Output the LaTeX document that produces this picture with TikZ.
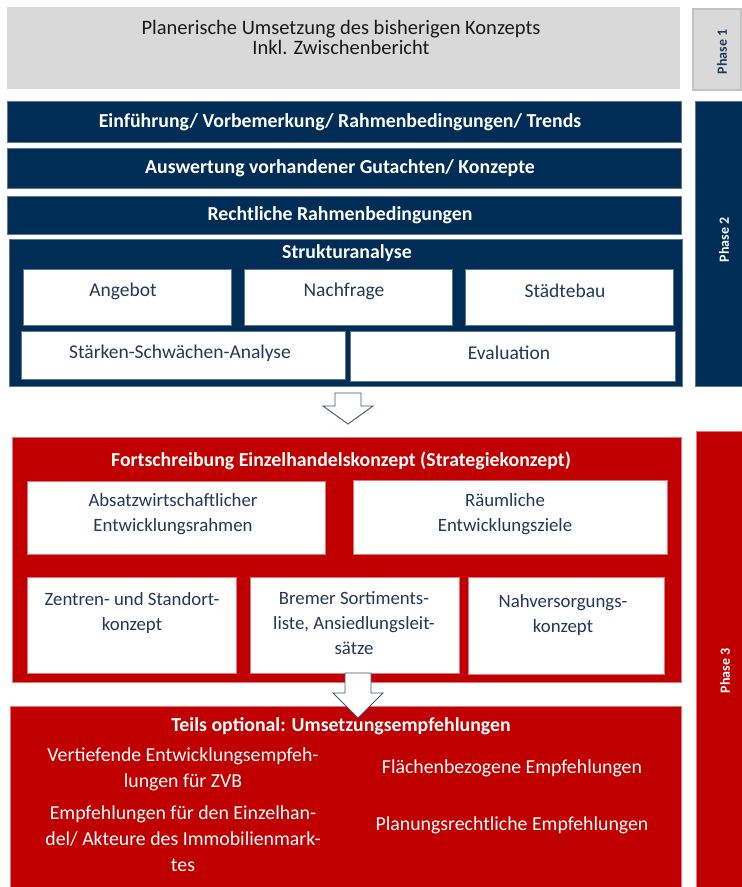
\documentclass[tikz,border=0pt]{standalone}
\usepackage{fontspec}
\setmainfont{Carlito}
\definecolor{lgray}{HTML}{D9D9D9}
\definecolor{grayedge}{HTML}{C3C3C3}
\definecolor{navy}{HTML}{002D55}
\definecolor{navyedge}{HTML}{5E7894}
\definecolor{cred}{HTML}{C00000}
\definecolor{rededge}{HTML}{E07A7A}
\definecolor{txtnavy}{HTML}{22385A}
\definecolor{txtdark}{HTML}{1A1A1A}
\definecolor{arrowline}{HTML}{44546A}
\newcommand\mkbox[6]{\node[#1, minimum width={(#5)-(#3)}, minimum height={(#6)-(#4)}] (#2) at ({((#3)+(#5))/2},{((#4)+(#6))/2}) {};}
\tikzset{
  boxbase/.style={rectangle, inner sep=0pt, outer sep=0pt},
  graybox/.style={boxbase, fill=lgray},
  phaseonebox/.style={boxbase, fill=lgray, draw=grayedge, line width=1.5pt},
  navybox/.style={boxbase, fill=navy, draw=navyedge, line width=0.5pt},
  redbox/.style={boxbase, fill=cred, draw=rededge, line width=0.5pt},
  wboxn/.style={boxbase, fill=white, draw=navyedge, line width=0.5pt},
  wboxr/.style={boxbase, fill=white, draw=rededge, line width=0.5pt},
  btext/.style={inner sep=0pt, text=white, font=\fontsize{19.8}{24}\selectfont\bfseries},
  gtext/.style={inner sep=0pt, text=txtdark, align=center, font=\fontsize{20.5}{20}\selectfont},
  ntext/.style={inner sep=0pt, text=txtnavy, align=center, font=\fontsize{19.5}{25}\selectfont},
  rtext/.style={inner sep=0pt, text=txtnavy, align=center, font=\fontsize{18.8}{25}\selectfont},
  wtext/.style={inner sep=0pt, text=white, align=center, font=\fontsize{19.8}{26}\selectfont},
  phasetext/.style={inner sep=0pt, rotate=90, font=\fontsize{14}{16}\selectfont\bfseries},
  blockarrow/.style={fill=white, draw=arrowline, line width=0.9pt, line join=miter}
}
\begin{document}
\begin{tikzpicture}[x=1pt,y=-1pt]
\useasboundingbox[fill=white] (0,0) rectangle (742,887);
% Phase 1
\mkbox{graybox}{p1main}{7}{7}{680}{89}
\node[gtext] (p1title) at (341,37) {Planerische Umsetzung des bisherigen Konzepts\\Inkl. Zwischenbericht};
\mkbox{phaseonebox}{p1bar}{693}{9}{741}{90}
\node[phasetext, text=txtnavy] (p1lab) at (722,52) {Phase 1};
% Phase 2
\mkbox{navybox}{bar1}{7}{101}{681}{142}
\node[btext] (bar1t) at (340,122) {Einführung/ Vorbemerkung/ Rahmenbedingungen/ Trends};
\mkbox{navybox}{bar2}{7}{148}{681}{188}
\node[btext] (bar2t) at (340,168) {Auswertung vorhandener Gutachten/ Konzepte};
\mkbox{navybox}{bar3}{7}{196}{681}{234}
\node[btext] (bar3t) at (340,215) {Rechtliche Rahmenbedingungen};
\mkbox{navybox}{struk}{9}{239}{682}{386}
\node[btext] (strukt) at (347,253) {Strukturanalyse};
\mkbox{wboxn}{angebot}{23}{269}{231}{325}
\node[ntext] (angebott) at (123,291) {Angebot};
\mkbox{wboxn}{nachfrage}{244}{269}{452}{325}
\node[ntext] (nachfraget) at (344,291) {Nachfrage};
\mkbox{wboxn}{staedtebau}{465}{269}{673}{325}
\node[ntext] (staedtebaut) at (565,291) {Städtebau};
\mkbox{wboxn}{swa}{21}{331}{345}{379}
\node[ntext] (swat) at (180,353) {Stärken-Schwächen-Analyse};
\mkbox{wboxn}{evaluation}{350}{331}{675}{381}
\node[ntext] (evaluationt) at (509,353) {Evaluation};
\mkbox{navybox}{p2bar}{695}{101}{742}{386}
\node[phasetext, text=white] (p2lab) at (724,240) {Phase 2};
% Arrow 1
\draw[blockarrow] (335,393) -- (361,393) -- (361,406) -- (373,406) -- (348,424) -- (323,406) -- (335,406) -- cycle;
% Phase 3
\mkbox{redbox}{fort}{12}{437}{681}{682}
\node[btext] (fortt) at (341,461) {Fortschreibung Einzelhandelskonzept (Strategiekonzept)};
\mkbox{wboxr}{absatz}{27}{481}{325}{554}
\node[rtext] (absatzt) at (173,514.5) {Absatzwirtschaftlicher\\Entwicklungsrahmen};
\mkbox{wboxr}{raum}{353}{480}{667}{554}
\node[rtext] (raumt) at (505,514.5) {Räumliche\\Entwicklungsziele};
\mkbox{wboxr}{zentren}{27}{577}{236}{673}
\node[rtext] (zentrent) at (132,612.5) {Zentren- und Standort-\\konzept};
\mkbox{wboxr}{bremer}{250}{577}{459}{673}
\node[rtext] (bremert) at (354,623) {Bremer Sortiments-\\liste, Ansiedlungsleit-\\sätze};
\mkbox{wboxr}{nahv}{468}{577}{664}{674}
\node[rtext] (nahvt) at (563,615) {Nahversorgungs-\\konzept};
\mkbox{redbox}{teils}{10}{706}{681}{888}
\node[btext] (teilst) at (341,726) {Teils optional: Umsetzungsempfehlungen};
\node[wtext] (vertt) at (183,769) {Vertiefende Entwicklungsempfeh-\\lungen für ZVB};
\node[wtext] (empft) at (183,839) {Empfehlungen für den Einzelhan-\\del/ Akteure des Immobilienmark-\\tes};
\node[wtext] (flaecht) at (512,768) {Flächenbezogene Empfehlungen};
\node[wtext] (planrt) at (512,825) {Planungsrechtliche Empfehlungen};
\mkbox{redbox}{p3bar}{696}{431}{742}{888}
\node[phasetext, text=white] (p3lab) at (725,671) {Phase 3};
% Arrow 2
\draw[blockarrow] (345,673) -- (371,673) -- (371,693) -- (383,693) -- (358,718) -- (333,693) -- (345,693) -- cycle;
\end{tikzpicture}
\end{document}
